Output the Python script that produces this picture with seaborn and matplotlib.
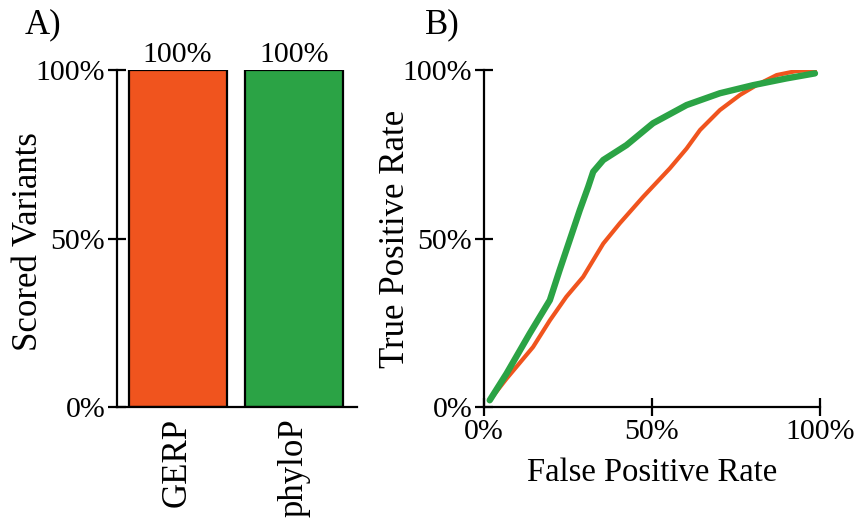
import numpy as np
import pandas as pd
import matplotlib
matplotlib.use("Agg")
import matplotlib.pyplot as plt
import seaborn as sns

# ---- data ----
methods = ["GERP", "phyloP"]
scored_pct = [1.0, 1.0]
bar_labels = ["100%", "100%"]
colors = ["#F0541E", "#2BA345"]

gerp_fpr = [0.017, 0.067, 0.146, 0.196, 0.245, 0.295, 0.355, 0.404, 0.474, 0.553,
            0.603, 0.643, 0.702, 0.762, 0.811, 0.871, 0.93, 0.985]
gerp_tpr = [0.02, 0.084, 0.178, 0.257, 0.327, 0.386, 0.485, 0.545, 0.624, 0.708,
            0.767, 0.822, 0.881, 0.926, 0.955, 0.985, 0.997, 1.0]
phylop_fpr = [0.017, 0.067, 0.136, 0.196, 0.225, 0.255, 0.285, 0.31, 0.325, 0.355,
              0.424, 0.503, 0.603, 0.702, 0.801, 0.90, 0.985]
phylop_tpr = [0.02, 0.099, 0.218, 0.317, 0.406, 0.495, 0.584, 0.653, 0.698, 0.733,
              0.777, 0.842, 0.896, 0.931, 0.955, 0.975, 0.99]

pct_ticks = [0, 0.5, 1.0]
pct_labels = ["0%", "50%", "100%"]

sns.set_theme(style="ticks")
plt.rcParams["font.family"] = ["Liberation Serif", "DejaVu Serif"]
plt.rcParams["axes.linewidth"] = 1.6
plt.rcParams["text.color"] = "black"
plt.rcParams["axes.labelcolor"] = "black"
plt.rcParams["xtick.color"] = "black"
plt.rcParams["ytick.color"] = "black"
plt.rcParams["axes.edgecolor"] = "black"

fig = plt.figure(figsize=(8.58, 5.21), dpi=100)
ax1 = fig.add_axes([117/858, 1-407/521, (357-117)/858, (407-70)/521])
ax2 = fig.add_axes([484/858, 1-407/521, (820-484)/858, (407-70)/521])

TICK_FS = 21.5
LAB_FS = 25

# ---- panel A ----
bar_df = pd.DataFrame({"method": methods, "scored": scored_pct})
sns.barplot(data=bar_df, x="method", y="scored", hue="method", palette=colors,
            saturation=1, width=0.84, edgecolor="black", linewidth=1.6,
            legend=False, ax=ax1)
for i, lab in enumerate(bar_labels):
    ax1.text(i, scored_pct[i] + 0.005, lab, ha="center", va="bottom",
             fontsize=TICK_FS, color="black")
ax1.set_xlim(-0.52, 1.54)
ax1.set_ylim(0, 1)
ax1.set_yticks(pct_ticks)
ax1.set_yticklabels(pct_labels)
ax1.set_xticks([0, 1])
ax1.set_xticklabels(methods, rotation=90)
ax1.set_xlabel("")
ax1.set_ylabel("Scored Variants", fontsize=LAB_FS)
ax1.yaxis.set_label_coords(-0.300, 0.49)
ax1.tick_params(axis="y", direction="inout", length=13, width=1.6,
                labelsize=TICK_FS, pad=2)
ax1.tick_params(axis="x", length=0, labelsize=25, pad=8)
sns.despine(ax=ax1)
fig.text(25/858, 1-25/521, "A)", fontsize=25, va="center", ha="left")

# ---- panel B ----
df_g = pd.DataFrame({"fpr": gerp_fpr, "tpr": gerp_tpr})
df_p = pd.DataFrame({"fpr": phylop_fpr, "tpr": phylop_tpr})
sns.lineplot(data=df_g, x="fpr", y="tpr", sort=False, estimator=None,
             color=colors[0], linewidth=3.0, ax=ax2)
sns.lineplot(data=df_p, x="fpr", y="tpr", sort=False, estimator=None,
             color=colors[1], linewidth=4.6, ax=ax2, solid_capstyle="round")
ax2.set_xlim(0, 1)
ax2.set_ylim(0, 1)
ax2.set_xticks(pct_ticks)
ax2.set_xticklabels(pct_labels)
ax2.set_yticks(pct_ticks)
ax2.set_yticklabels(pct_labels)
ax2.set_xlabel("False Positive Rate", fontsize=23.5, labelpad=9)
ax2.set_ylabel("True Positive Rate", fontsize=LAB_FS)
ax2.yaxis.set_label_coords(-0.214, 0.5)
ax2.tick_params(direction="inout", length=13, width=1.6, labelsize=TICK_FS, pad=2)
sns.despine(ax=ax2)
fig.text(425/858, 1-25/521, "B)", fontsize=25, va="center", ha="left")

fig.savefig("out.png", dpi=100)
